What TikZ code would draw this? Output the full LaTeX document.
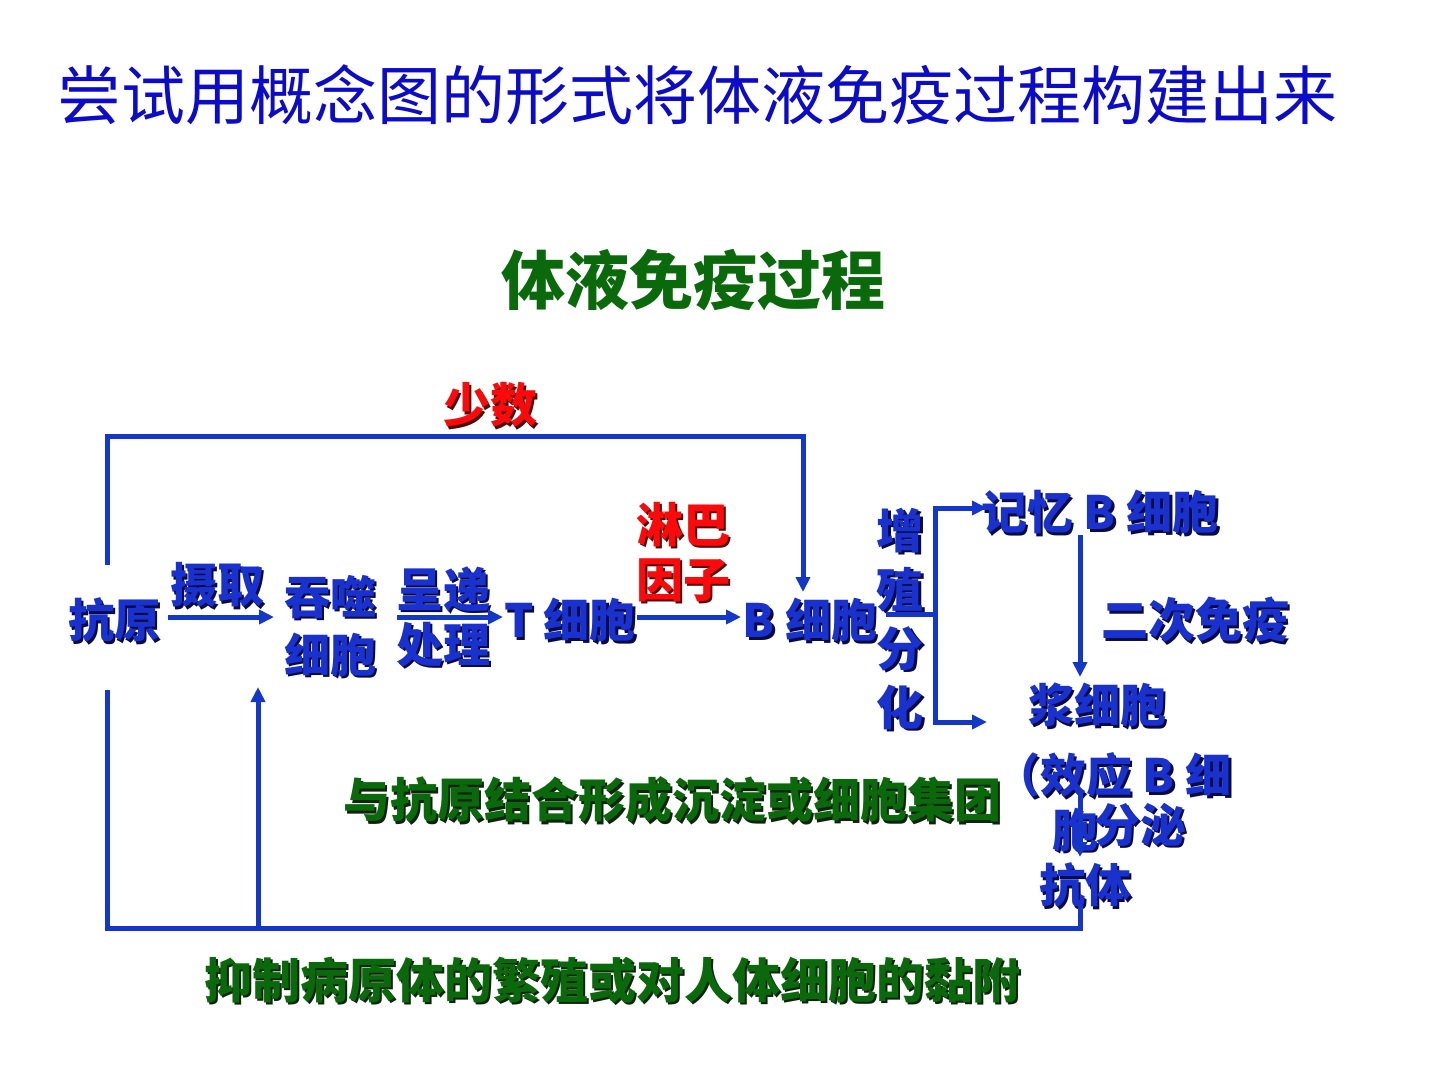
\documentclass[tikz,border=0pt]{standalone}
\usepackage{fontspec}
\setmainfont{Noto Sans CJK SC}
\usetikzlibrary{arrows.meta}
\definecolor{tblue}{RGB}{12,12,200}
\definecolor{nblue}{RGB}{25,50,205}
\definecolor{lblue}{RGB}{20,55,200}
\definecolor{ngreen}{RGB}{10,105,10}
\definecolor{nred}{RGB}{250,10,10}
\definecolor{sblue}{RGB}{10,10,70}
\definecolor{sgreen}{RGB}{15,35,15}
\definecolor{sred}{RGB}{80,10,10}
\newcommand\fs[2]{\fontsize{#1}{#2}\selectfont\bfseries}
% name, position, colour, shadow colour, font, text
\newcommand\stx[6]{%
  \node[txt,text=#4,xshift=2.5pt,yshift=-2.5pt,font=#5] (#1-s) at #2 {#6};
  \node[txt,text=#3,font=#5] (#1) at #2 {#6};}
\tikzset{
  txt/.style={inner sep=0pt,align=center,anchor=center},
  ln/.style={draw=lblue,line width=5pt,line join=miter},
  arr/.style={ln,-{Triangle[length=15pt,width=14pt]}}
}
\begin{document}
\begin{tikzpicture}[x=1pt,y=-1pt]
\useasboundingbox (0,0) rectangle (1440,1080);
% titles
\node[txt,text=tblue,font=\fontsize{64}{72}\selectfont] (title) at (697,95) {尝试用概念图的形式将体液免疫过程构建出来};
\node[txt,text=ngreen,font=\fs{64}{72}] (sub) at (693,280) {体液免疫过程};
% nodes
\stx{shaoshu}{(490,405)}{nred}{sred}{\fs{47}{56}}{少数}
\stx{kangyuan}{(114,620)}{nblue}{sblue}{\fs{46}{56}}{抗原}
\stx{sheqv}{(217,585)}{nblue}{sblue}{\fs{47}{56}}{摄取}
\stx{tunshi}{(330,626)}{nblue}{sblue}{\fs{46}{58}}{吞噬\\细胞}
\stx{chengdi}{(443,617)}{nblue}{sblue}{\fs{47}{55}}{呈递\\处理}
\stx{tcell}{(570,620)}{nblue}{sblue}{\fs{46}{56}}{T 细胞}
\stx{linba}{(683,552)}{nred}{sred}{\fs{47}{55}}{淋巴\\因子}
\stx{bcell}{(810,620)}{nblue}{sblue}{\fs{46}{56}}{B 细胞}
\stx{zengzhi}{(900,619)}{nblue}{sblue}{\fs{47}{59}}{增\\殖\\分\\化}
\stx{jiyi}{(1100,512)}{nblue}{sblue}{\fs{46}{56}}{记忆 B 细胞}
\stx{erci}{(1195,620)}{nblue}{sblue}{\fs{47}{56}}{二次免疫}
\stx{jiang}{(1097,705)}{nblue}{sblue}{\fs{46}{56}}{浆细胞}
\stx{xiaoying}{(1113,775)}{nblue}{sblue}{\fs{46}{56}}{（效应 B 细}
\stx{bao}{(1075,830)}{nblue}{sblue}{\fs{46}{56}}{胞}
\stx{kangti}{(1085,885)}{nblue}{sblue}{\fs{46}{56}}{抗体}
\stx{yukang}{(672,800)}{ngreen}{sgreen}{\fs{47}{54}}{与抗原结合形成沉淀或细胞集团}
\stx{yizhi}{(612,980)}{ngreen}{sgreen}{\fs{48}{56}}{抑制病原体的繁殖或对人体细胞的黏附}
% coordinates
\coordinate (topL) at (107,565);
\coordinate (topLc) at (107,436);
\coordinate (topRc) at (803,436);
\coordinate (topR) at (803,592);
\coordinate (a1s) at (168,617);
\coordinate (a1e) at (274,617);
\coordinate (a2s) at (397,617);
\coordinate (a2e) at (503,617);
\coordinate (a3s) at (637,617);
\coordinate (a3e) at (741,617);
\coordinate (brS) at (886,614);
\coordinate (brM) at (935,614);
\coordinate (brT) at (935,508);
\coordinate (brB) at (935,722);
\coordinate (brTe) at (987,508);
\coordinate (brBe) at (987,722);
\coordinate (memS) at (1080,535);
\coordinate (memE) at (1080,677);
\coordinate (secS) at (1080,790);
\coordinate (secE) at (1080,857);
\coordinate (botR) at (1080,905);
\coordinate (botRc) at (1080,928);
\coordinate (botLc) at (107,928);
\coordinate (botL) at (107,690);
\coordinate (upS) at (258,928);
\coordinate (upE) at (258,687);
% connectors
\draw[arr] (topL) -- (topLc) -- (topRc) -- (topR);
\draw[arr] (a1s) -- (a1e);
\draw[arr] (a2s) -- (a2e);
\draw[arr] (a3s) -- (a3e);
\draw[ln] (brS) -- (brM);
\draw[arr] (brM) -- (brT) -- (brTe);
\draw[arr] (brM) -- (brB) -- (brBe);
\draw[arr] (memS) -- (memE);
\draw[arr] (secS) -- (secE);
\draw[ln] (botR) -- (botRc) -- (botLc) -- (botL);
\draw[arr] (upS) -- (upE);
% label over connector
\stx{fenmi}{(1140,825)}{nblue}{sblue}{\fs{46}{56}}{分泌}
\end{tikzpicture}
\end{document}
